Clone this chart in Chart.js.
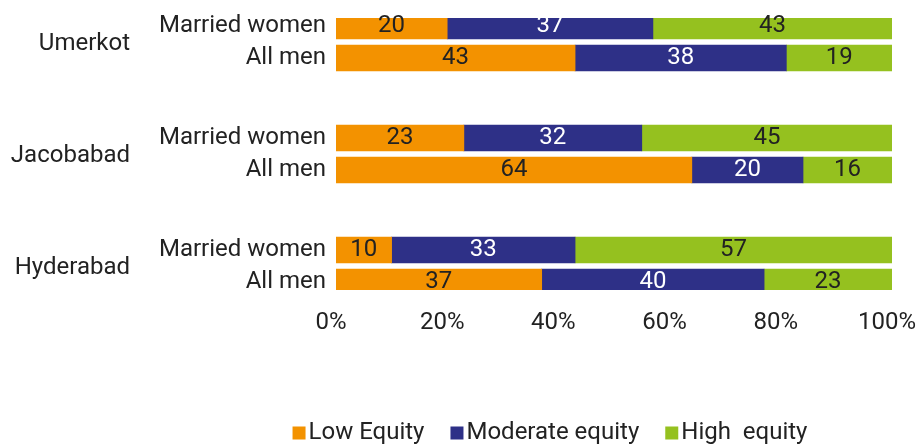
<!DOCTYPE html>
<html>
<head>
<meta charset="utf-8">
<script src="https://cdn.jsdelivr.net/npm/chart.js@4.4.1/dist/chart.umd.min.js"></script>
<style>
  html, body { margin: 0; padding: 0; background: #ffffff; }
</style>
</head>
<body>
<canvas id="chart" width="916" height="446"></canvas>
<script>
// Gender equity scores by district and respondent group (percent of respondents)
const districts = ['Umerkot', 'Jacobabad', 'Hyderabad'];
const respondents = ['Married women', 'All men'];
const lowEquity = [20, 43, 23, 64, 10, 37];
const moderateEquity = [37, 38, 32, 20, 33, 40];
const highEquity = [43, 19, 45, 16, 57, 23];
const xTicks = [0, 20, 40, 60, 80, 100];
const seriesNames = ['Low Equity', 'Moderate equity', 'High  equity'];
const seriesColors = ['#F39200', '#2E3087', '#95C11F'];

// Each district takes 7 category slots: two bar rows two slots apart, then a gap.
const SLOTS_PER_GROUP = 7;
const ROW_STEP = 2;
const slotCount = (districts.length - 1) * SLOTS_PER_GROUP + (respondents.length - 1) * ROW_STEP + 1;
const slotOf = (g, r) => g * SLOTS_PER_GROUP + r * ROW_STEP;

const labels = new Array(slotCount).fill('');
function spread(values) {
  const out = new Array(slotCount).fill(null);
  districts.forEach((d, g) => respondents.forEach((name, r) => {
    out[slotOf(g, r)] = values[g * respondents.length + r];
  }));
  return out;
}
districts.forEach((d, g) => respondents.forEach((name, r) => { labels[slotOf(g, r)] = name; }));

const seriesValues = [lowEquity, moderateEquity, highEquity];
const textColor = '#222222';
const FONT = 'Roboto';

Chart.defaults.font.family = FONT;
Chart.defaults.font.size = 24;
Chart.defaults.color = textColor;

// Value printed in the middle of each bar segment
const segmentLabels = {
  id: 'segmentLabels',
  afterDatasetsDraw(chart) {
    const ctx = chart.ctx;
    ctx.save();
    ctx.font = '24px ' + FONT;
    ctx.textAlign = 'center';
    ctx.textBaseline = 'middle';
    chart.data.datasets.forEach((ds, i) => {
      const meta = chart.getDatasetMeta(i);
      ctx.fillStyle = i === 1 ? '#ffffff' : textColor;
      meta.data.forEach((bar, j) => {
        const v = ds.data[j];
        if (v === null || v === undefined) return;
        const p = bar.getProps(['x', 'y', 'base'], true);
        ctx.fillText(String(v), (p.x + p.base) / 2, p.y);
      });
    });
    ctx.restore();
  }
};

// District names beside each pair of bars
const districtLabels = {
  id: 'districtLabels',
  afterDraw(chart) {
    const ctx = chart.ctx;
    const y = chart.scales.y;
    ctx.save();
    ctx.font = '24px ' + FONT;
    ctx.fillStyle = textColor;
    ctx.textAlign = 'right';
    ctx.textBaseline = 'middle';
    districts.forEach((name, g) => {
      const top = y.getPixelForValue(slotOf(g, 0));
      const bottom = y.getPixelForValue(slotOf(g, respondents.length - 1));
      ctx.fillText(name, 130, (top + bottom) / 2 + 2);
    });
    ctx.restore();
  }
};

// Compact legend: square swatch followed closely by its label
const swatchLegend = {
  id: 'swatchLegend',
  afterDraw(chart) {
    const ctx = chart.ctx;
    const box = 13, gapText = 3, gapItem = 26, centerX = 550, centerY = 433;
    ctx.save();
    ctx.font = '24px ' + FONT;
    ctx.textBaseline = 'middle';
    ctx.textAlign = 'left';
    const items = chart.data.datasets.map(ds => ({
      text: ds.label, color: ds.backgroundColor, w: ctx.measureText(ds.label).width
    }));
    const total = items.reduce((s, it) => s + box + gapText + it.w, 0) + gapItem * (items.length - 1);
    let x = centerX - total / 2;
    items.forEach(it => {
      ctx.fillStyle = it.color;
      ctx.fillRect(x, centerY - box / 2, box, box);
      x += box + gapText;
      ctx.fillStyle = textColor;
      ctx.fillText(it.text, x, centerY);
      x += it.w + gapItem;
    });
    ctx.restore();
  }
};

new Chart(document.getElementById('chart'), {
  type: 'bar',
  data: {
    labels: labels,
    datasets: seriesNames.map((name, i) => ({
      label: name,
      data: spread(seriesValues[i]),
      backgroundColor: seriesColors[i],
      borderWidth: 0,
      barThickness: 26
    }))
  },
  options: {
    indexAxis: 'y',
    responsive: false,
    animation: false,
    layout: { padding: { top: 18, right: 24, bottom: 0, left: 0 } },
    plugins: {
      legend: { display: false },
      tooltip: { enabled: false }
    },
    scales: {
      x: {
        stacked: true,
        min: xTicks[0],
        max: xTicks[xTicks.length - 1],
        grid: { display: false, drawTicks: false },
        border: { display: false },
        afterBuildTicks(scale) { scale.ticks = xTicks.map(v => ({ value: v })); },
        ticks: {
          padding: 19,
          labelOffset: -5,
          maxRotation: 0,
          font: { size: 24 },
          color: textColor,
          callback: v => v + '%'
        },
        afterFit(scale) {
          scale.height = 156;
          scale.paddingLeft = 0;
          scale.paddingRight = 0;
        }
      },
      y: {
        stacked: true,
        grid: { display: false, drawTicks: false },
        border: { display: false },
        ticks: {
          autoSkip: false,
          padding: 10,
          font: { size: 24 },
          color: textColor
        },
        afterFit(scale) {
          scale.width = 336;
          scale.paddingTop = 0;
          scale.paddingBottom = 0;
        }
      }
    }
  },
  plugins: [segmentLabels, districtLabels, swatchLegend]
});
</script>
</body>
</html>
